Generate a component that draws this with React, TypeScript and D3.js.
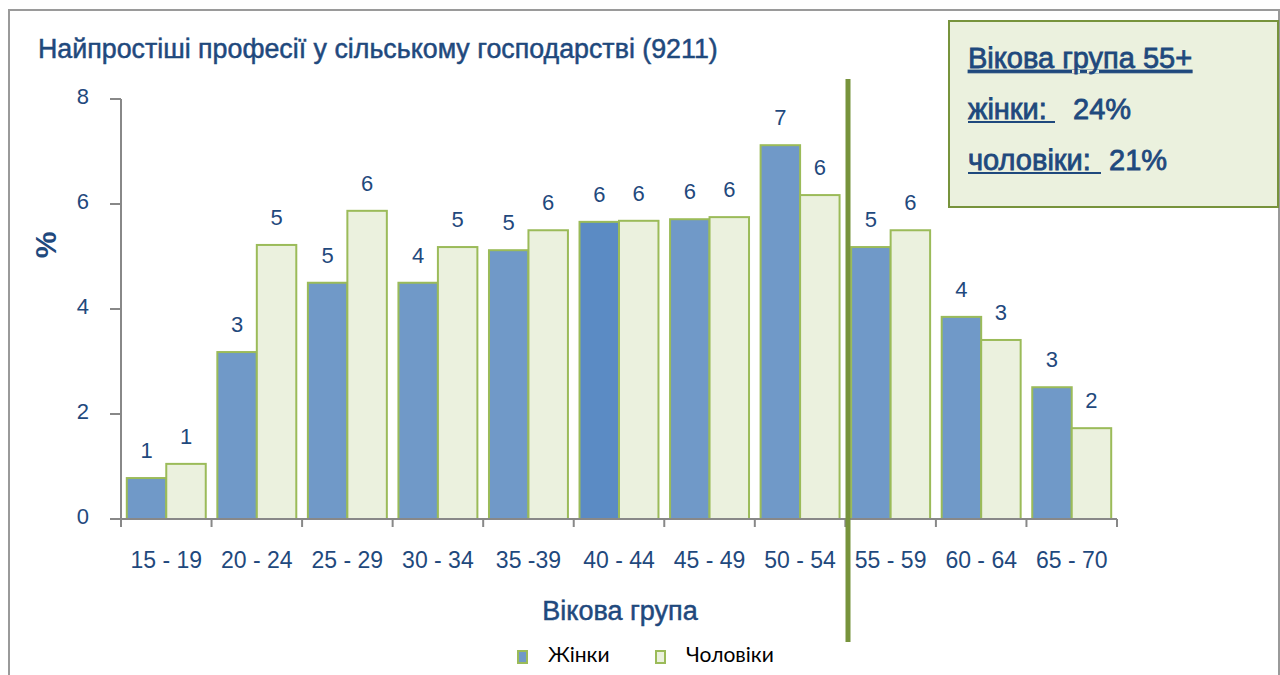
import React from "react";
import * as d3 from "d3";

const categories = ["15 - 19", "20 - 24", "25 - 29", "30 - 34", "35 -39", "40 - 44", "45 - 49", "50 - 54", "55 - 59", "60 - 64", "65 - 70"];
const women = [0.78, 3.18, 4.5, 4.5, 5.12, 5.66, 5.71, 7.12, 5.18, 3.85, 2.51];
const men = [1.05, 5.22, 5.87, 5.18, 5.5, 5.68, 5.75, 6.17, 5.5, 3.41, 1.73];
const womenLabels = ["1", "3", "5", "4", "5", "6", "6", "7", "5", "4", "3"];
const menLabels = ["1", "5", "6", "5", "6", "6", "6", "6", "6", "3", "2"];
const yTicks = [0, 2, 4, 6, 8];
const seriesNames = ["Жінки", "Чоловіки"];

const BLUE = "#1f497d";
const W_FILL = "#7099c8";
const W_FILL_DARK = "#5b8bc4";
const M_FILL = "#ebf1de";
const STROKE = "#9bbb59";
const FONT = "'Liberation Sans', Arial, sans-serif";

export default function App() {
  const x = d3.scaleBand<string>().domain(categories).range([121, 1117]).paddingInner(0.128).paddingOuter(0.064);
  const y = d3.scaleLinear().domain([0, 8]).range([519, 99]);
  const bw = x.bandwidth() / 2;
  const step = x.step();
  const boundaries = d3.range(categories.length + 1).map((i) => 121 + i * step);
  const heavy = { stroke: BLUE, strokeWidth: 0.5 };

  return (
    <svg width={1280} height={675} style={{ position: "absolute", left: 0, top: 0, background: "#fff" }} fontFamily={FONT}>
      {/* frame */}
      <path d="M9,675 L9,10 L1279,10 L1279,675" fill="none" stroke="#9a9a9a" strokeWidth={2} />

      {/* title */}
      <text x={38} y={58} fontSize={26.8} fill={BLUE} {...heavy}>Найпростіші професії у сільському господарстві (9211)</text>

      {/* y axis */}
      <line x1={121} x2={121} y1={99} y2={519} stroke="#888" strokeWidth={2} />
      {yTicks.map((t) => (
        <g key={t}>
          <line x1={110} x2={121} y1={y(t)} y2={y(t)} stroke="#888" strokeWidth={2} />
          <text x={89} y={y(t) + 5} textAnchor="end" fontSize={22} fill={BLUE}>{t}</text>
        </g>
      ))}
      <text transform="translate(56,245) rotate(-90)" textAnchor="middle" fontSize={30} fontWeight="bold" fill={BLUE}>%</text>

      {/* bars */}
      {categories.map((c, i) => {
        const x0 = x(c)!;
        return (
          <g key={c}>
            <rect x={x0} y={y(women[i])} width={bw} height={y(0) - y(women[i])} fill={i === 5 ? W_FILL_DARK : W_FILL} stroke={STROKE} strokeWidth={2} />
            <rect x={x0 + bw} y={y(men[i])} width={bw} height={y(0) - y(men[i])} fill={M_FILL} stroke={STROKE} strokeWidth={2} />
            <text x={x0 + bw / 2} y={y(women[i]) - 20} textAnchor="middle" fontSize={22} fill={BLUE}>{womenLabels[i]}</text>
            <text x={x0 + bw * 1.5} y={y(men[i]) - 20} textAnchor="middle" fontSize={22} fill={BLUE}>{menLabels[i]}</text>
            <text x={x0 + bw} y={568} textAnchor="middle" fontSize={23} fill={BLUE}>{c}</text>
          </g>
        );
      })}

      {/* x axis */}
      <line x1={110} x2={1117} y1={519} y2={519} stroke="#888" strokeWidth={2} />
      {boundaries.map((b, i) => (
        <line key={i} x1={b} x2={b} y1={519} y2={527} stroke="#888" strokeWidth={2} />
      ))}
      <text x={620} y={620} textAnchor="middle" fontSize={27} fill={BLUE} {...heavy}>Вікова група</text>

      {/* divider line */}
      <line x1={848} x2={848} y1={79} y2={642} stroke="#77933c" strokeWidth={5} />

      {/* legend */}
      <rect x={518} y={651} width={9} height={12} fill={W_FILL} stroke={STROKE} strokeWidth={2} />
      <text x={548} y={662} fontSize={21} fontFamily="Lato, 'Open Sans', sans-serif" fill="#000">{seriesNames[0]}</text>
      <rect x={656} y={651} width={9} height={12} fill={M_FILL} stroke={STROKE} strokeWidth={2} />
      <text x={686} y={662} fontSize={21} fontFamily="Lato, 'Open Sans', sans-serif" fill="#000">{seriesNames[1]}</text>

      {/* annotation box */}
      <rect x={949} y={21} width={329} height={186} fill="#ebf1de" stroke="#77933c" strokeWidth={2} />
      <g fontSize={29} fill={BLUE} stroke={BLUE} strokeWidth={0.8}>
        <text x={968} y={68} textDecoration="underline">Вікова група 55+</text>
        <text x={968} y={119}>жінки:</text>
        <text x={1073} y={119}>24%</text>
        <text x={968} y={170}>чоловіки:</text>
        <text x={1109} y={170}>21%</text>
      </g>
      <line x1={968} x2={1055} y1={122} y2={122} stroke={BLUE} strokeWidth={2.2} />
      <line x1={968} x2={1101} y1={173} y2={173} stroke={BLUE} strokeWidth={2.2} />
    </svg>
  );
}
